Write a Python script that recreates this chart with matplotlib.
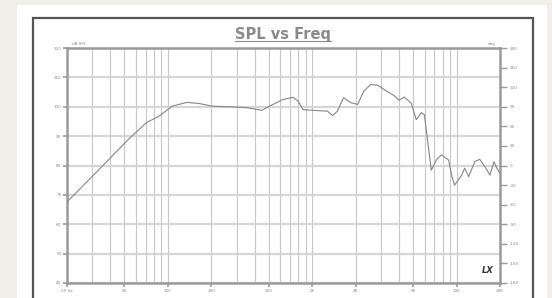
import matplotlib
matplotlib.use("Agg")
import matplotlib.pyplot as plt
import matplotlib.patches as patches
from matplotlib.lines import Line2D
from matplotlib.ticker import FixedLocator, LogLocator, NullFormatter

# data
freq = [20, 33, 53, 63, 71, 87, 107, 136, 165, 203, 267, 351, 448, 535, 628,
        737, 798, 865, 1084, 1274, 1380, 1496, 1648, 1846, 2066, 2275, 2548,
        2852, 3140, 3690, 4000, 4333, 4854, 5260, 5700, 5985, 6374, 6685,
        7244, 7850, 8796, 9300, 9688, 10845, 11380, 12140, 13370, 14490,
        15700, 16500, 17020, 18160, 19060, 20000]
spl = [67.6, 78.4, 88.8, 92.2, 94.6, 96.8, 100.2, 101.5, 101.1, 100.2, 100.0,
       99.7, 98.8, 100.8, 102.5, 103.2, 101.9, 99.0, 98.7, 98.5, 97.0, 98.5,
       103.1, 101.4, 100.8, 105.3, 107.6, 107.3, 105.9, 103.8, 102.2, 103.3,
       101.2, 95.6, 98.0, 97.3, 86.5, 78.4, 81.9, 83.6, 81.9, 76.2, 73.3,
       76.7, 79.1, 76.2, 81.3, 82.1, 79.6, 77.9, 76.7, 81.3, 79.0, 77.3]

xticks = [20, 50, 100, 200, 500, 1000, 2000, 5000, 10000, 20000]
xlabels = ["20 Hz", "50", "100", "200", "500", "1K", "2K", "5K", "10K", "20K"]
yticks = [40, 50, 60, 70, 80, 90, 100, 110, 120]
phase_ticks = [-180, -150, -120, -90, -60, -30, 0, 30, 60, 90, 120, 150, 180]

W, H = 552, 298
fig = plt.figure(figsize=(W / 100, H / 100), dpi=100)
fig.patch.set_facecolor("#f2efea")

# white card and dark frame
fig.patches.append(patches.Rectangle((17 / W, 0), 530 / W, 293 / H, transform=fig.transFigure,
                                     facecolor="white", edgecolor="none", zorder=-3))
fig.patches.append(patches.Rectangle((33 / W, -0.05), 500 / W, (H - 18) / H + 0.05,
                                     transform=fig.transFigure, facecolor="white",
                                     edgecolor="#555555", lw=1.6, zorder=-2))

ax = fig.add_axes([67 / W, 1 - 283 / H, 433 / W, 235 / H])
ax.set_facecolor("white")
ax.plot(freq, spl, color="#858585", lw=0.8, zorder=3)
ax.set_xscale("log")
ax.set_xlim(20, 20000)
ax.set_ylim(40, 120)

ax.xaxis.set_major_locator(FixedLocator(xticks))
ax.set_xticklabels(xlabels)
ax.xaxis.set_minor_locator(LogLocator(base=10, subs=range(1, 10), numticks=20))
ax.xaxis.set_minor_formatter(NullFormatter())
ax.set_yticks(yticks)
ax.set_yticklabels([str(v) for v in yticks])

ax.grid(True, which="both", axis="x", color="#c8c8c8", lw=0.8)
ax.grid(True, which="major", axis="y", color="#d6d6d6", lw=1.6)
ax.set_axisbelow(True)

for s in ax.spines.values():
    s.set_color("#9a9a9a")
    s.set_linewidth(1.8)

ax.tick_params(axis="both", which="major", direction="out", length=3, width=1.2,
               color="#9a9a9a", labelsize=3, labelcolor="#888888", pad=1)
ax.tick_params(axis="x", which="minor", length=0)

ax2 = ax.twinx()
ax2.set_ylim(-180, 180)
ax2.set_yticks(phase_ticks)
ax2.set_yticklabels([str(v) for v in phase_ticks])
ax2.tick_params(axis="y", direction="out", length=5, width=1.0, color="#9a9a9a",
                labelsize=3, labelcolor="#888888", pad=2)
for s in ax2.spines.values():
    s.set_visible(False)

fig.text(72 / W, 1 - 44 / H, "dB SPL", fontsize=3, color="#888888", va="center")
fig.text(496 / W, 1 - 44 / H, "deg", fontsize=3, color="#888888", va="center", ha="right")
ax.text(0.985, 0.035, "LX", transform=ax.transAxes, fontsize=6, fontweight="bold",
        fontstyle="italic", color="#333333", ha="right", va="bottom")

title = fig.text(283 / W, 1 - 34 / H, "SPL vs Freq", fontsize=10.5, fontweight="bold",
                 color="#8a8a8a", ha="center", va="center")
fig.canvas.draw()
bb = title.get_window_extent().transformed(fig.transFigure.inverted())
fig.add_artist(Line2D([bb.x0, bb.x1], [bb.y0 + 0.3 / H, bb.y0 + 0.3 / H],
                      transform=fig.transFigure, color="#8a8a8a", lw=0.8))

fig.savefig("out.png", dpi=100, facecolor=fig.get_facecolor())
